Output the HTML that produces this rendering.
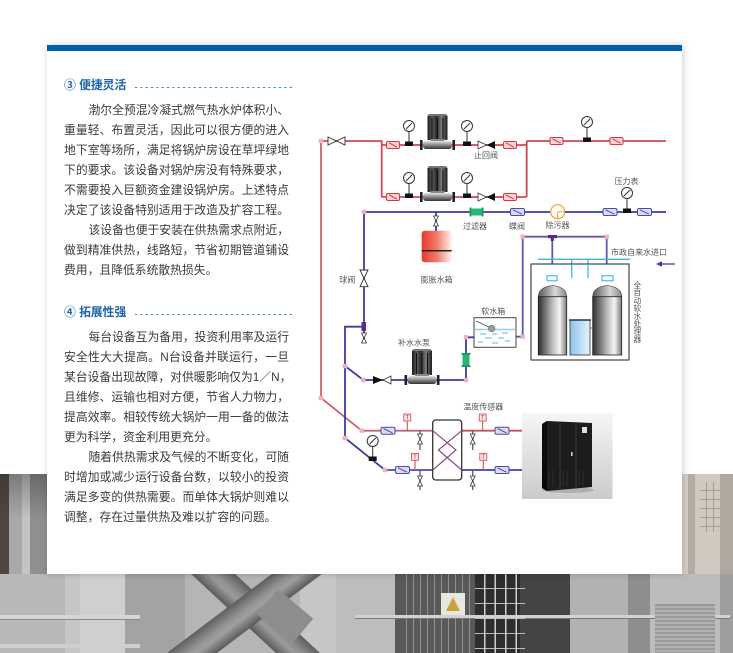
<!DOCTYPE html>
<html><head><meta charset="utf-8">
<style>
*{margin:0;padding:0;box-sizing:border-box}
html,body{width:733px;height:653px;overflow:hidden;background:#fff}
body{position:relative;font-family:"Liberation Sans","Noto Sans CJK SC",sans-serif}
.abs{position:absolute}
.card{position:absolute;left:47px;top:45px;width:635px;height:529px;background:#fff;box-shadow:1px 0 7px rgba(0,0,0,.2)}
.bar{position:absolute;left:47px;top:45px;width:635px;height:6px;background:#0062ad}
.t{position:absolute;left:64px;font-size:11.8px;font-weight:bold;color:#1d63ae;line-height:16px;white-space:nowrap}
.dots{position:absolute;left:135px;width:160px;height:1.3px;background:repeating-linear-gradient(90deg,#3f8bd0 0 2.2px,transparent 2.2px 5.33px)}
.l{position:absolute;left:64px;width:225px;font-size:11.8px;line-height:20px;height:20px;color:#3a3a3a;white-space:nowrap;text-align:justify;text-align-last:justify}
.i{left:88.5px;width:200.5px}
.e{text-align-last:left}
</style></head><body>

<!-- background photo approximation -->
<div class="abs" style="left:0;top:474px;width:47px;height:100px;background:linear-gradient(180deg,rgba(40,34,30,.35),rgba(0,0,0,0) 45%),linear-gradient(90deg,#4e4741 0 9px,#a9a9a9 9px 22px,#c4c4c4 22px 30px,#8f8f8f 30px 47px)"></div>
<div class="abs" style="left:682px;top:474px;width:51px;height:100px;background:linear-gradient(90deg,#d6cfc6 0 6px,#b4aca2 6px 13px,#cfc9c0 13px 38px,#aea89f 38px 51px)"></div>
<div class="abs" style="left:700px;top:482px;width:20px;height:50px;background:repeating-linear-gradient(90deg,transparent 0 6px,#a49d94 6px 7px),repeating-linear-gradient(180deg,transparent 0 8px,#a49d94 8px 9px)"></div>
<div class="abs" style="left:0;top:574px;width:733px;height:79px;overflow:hidden;background:linear-gradient(90deg,#b8b8b8 0 65px,#c6c6c6 65px 80px,#cfcfcf 80px 125px,#a3a3a3 125px 185px,#b5b5b5 185px 300px,#c6c6c6 300px 336px,#bdbdbd 336px 395px,#595959 395px 475px,#2e2e2e 475px 520px,#444 520px 570px,#b2b2b2 570px 628px,#8e8e8e 628px 650px,#bcbcbc 650px 720px,#9e9e9e 720px 733px)">
  <div class="abs" style="left:170px;top:24px;width:170px;height:30px;background:linear-gradient(180deg,#5e5e5e,#8e8e8e 40%,#9a9a9a 60%,#5a5a5a);transform:rotate(43deg)"></div>
  <div class="abs" style="left:160px;top:24px;width:170px;height:30px;background:linear-gradient(180deg,#5e5e5e,#929292 40%,#a0a0a0 60%,#5a5a5a);transform:rotate(-37deg)"></div>
  <div class="abs" style="left:262px;top:26px;width:46px;height:33px;background:#8d8d8d;transform:rotate(40deg)"></div>
  <div class="abs" style="left:0;top:41px;width:140px;height:5px;background:#d6d6d6;border-bottom:1px solid #888"></div>
  <div class="abs" style="left:0;top:70px;width:140px;height:4px;background:#cfcfcf"></div>
  <div class="abs" style="left:355px;top:41px;width:375px;height:4px;background:#d2d2d2;border-bottom:1px solid #777"></div>
  <div class="abs" style="left:475px;top:0;width:50px;height:79px;background:repeating-linear-gradient(90deg,transparent 0 9px,#cfcfcf 9px 10.5px),repeating-linear-gradient(180deg,transparent 0 14px,#bdbdbd 14px 15px)"></div>
  <div class="abs" style="left:400px;top:0;width:72px;height:79px;background:repeating-linear-gradient(90deg,transparent 0 6px,rgba(200,200,200,.5) 6px 7px)"></div>
  <div class="abs" style="left:441px;top:19px;width:24px;height:22px;background:#e8e6e0"></div>
  <div class="abs" style="left:446px;top:23px;width:0;height:0;border-left:7px solid transparent;border-right:7px solid transparent;border-bottom:14px solid #c8a23c"></div>
  <div class="abs" style="left:655px;top:30px;width:60px;height:49px;background:repeating-linear-gradient(180deg,#9a9a9a 0 2px,#b0b0b0 2px 4px)"></div>
</div>

<div class="card"></div>
<div class="bar"></div>

<div class="t" style="top:77px">③ 便捷灵活</div>
<div class="dots" style="top:86.5px"></div>
<div class="l i" style="top:100px">渤尔全预混冷凝式燃气热水炉体积小、</div>
<div class="l" style="top:120px">重量轻、布置灵活，因此可以很方便的进入</div>
<div class="l" style="top:140px">地下室等场所，满足将锅炉房设在草坪绿地</div>
<div class="l" style="top:160px">下的要求。该设备对锅炉房没有特殊要求，</div>
<div class="l" style="top:180px">不需要投入巨额资金建设锅炉房。上述特点</div>
<div class="l" style="top:200px">决定了该设备特别适用于改造及扩容工程。</div>
<div class="l i" style="top:220px">该设备也便于安装在供热需求点附近，</div>
<div class="l" style="top:240px">做到精准供热，线路短，节省初期管道铺设</div>
<div class="l e" style="top:260px">费用，且降低系统散热损失。</div>

<div class="t" style="top:304px">④ 拓展性强</div>
<div class="dots" style="top:313.5px"></div>
<div class="l i" style="top:327px">每台设备互为备用，投资利用率及运行</div>
<div class="l" style="top:347px">安全性大大提高。N台设备并联运行，一旦</div>
<div class="l" style="top:367px">某台设备出现故障，对供暖影响仅为1／N，</div>
<div class="l" style="top:387px">且维修、运输也相对方便，节省人力物力，</div>
<div class="l" style="top:407px">提高效率。相较传统大锅炉一用一备的做法</div>
<div class="l e" style="top:427px">更为科学，资金利用更充分。</div>
<div class="l i" style="top:447px">随着供热需求及气候的不断变化，可随</div>
<div class="l" style="top:467px">时增加或减少运行设备台数，以较小的投资</div>
<div class="l" style="top:487px">满足多变的供热需要。而单体大锅炉则难以</div>
<div class="l e" style="top:507px">调整，存在过量供热及难以扩容的问题。</div>

<svg width="733" height="653" viewBox="0 0 733 653" style="position:absolute;left:0;top:0" xmlns="http://www.w3.org/2000/svg">
<defs>
<linearGradient id="mg" x1="0" x2="1" y1="0" y2="0">
 <stop offset="0" stop-color="#1e1e1e"/><stop offset=".25" stop-color="#5c5c5c"/><stop offset=".45" stop-color="#2a2a2a"/><stop offset=".7" stop-color="#7a7a7a"/><stop offset="1" stop-color="#1e1e1e"/>
</linearGradient>
<linearGradient id="vg" x1="0" x2="0" y1="0" y2="1">
 <stop offset="0" stop-color="#e4e4e4"/><stop offset=".5" stop-color="#8a8a8a"/><stop offset="1" stop-color="#333"/>
</linearGradient>
<linearGradient id="tank" x1="0" x2="1"><stop offset="0" stop-color="#2e2e2e"/><stop offset=".5" stop-color="#bcbcbc"/><stop offset=".75" stop-color="#f4f4f4"/><stop offset="1" stop-color="#7a7a7a"/></linearGradient>
<linearGradient id="dome" x1="0" x2="1"><stop offset="0" stop-color="#555"/><stop offset=".6" stop-color="#d8d8d8"/><stop offset="1" stop-color="#888"/></linearGradient>
<linearGradient id="exp" x1="0" x2="1"><stop offset="0" stop-color="#e8382f"/><stop offset=".5" stop-color="#f07a68"/><stop offset="1" stop-color="#fff2ee"/></linearGradient>
<linearGradient id="brine" x1="0" x2="1"><stop offset="0" stop-color="#8cc4ec"/><stop offset="1" stop-color="#e4f2fc"/></linearGradient>
<linearGradient id="boil" x1="0" x2="0" y1="0" y2="1"><stop offset="0" stop-color="#f6f6f6"/><stop offset="1" stop-color="#cbcbcb"/></linearGradient>
<g id="ur"><rect x="-6.5" y="-3.5" width="13" height="7" rx="1.5" fill="#fcd6d9" stroke="#e0323f" stroke-width="1"/><path d="M-4,-2.2L4,2.2" stroke="#e0323f" stroke-width="1"/></g>
<g id="ub"><rect x="-7" y="-3.5" width="14" height="7" rx="1.5" fill="#dedcf4" stroke="#4a4ab0" stroke-width="1"/><path d="M-4.5,-2.2L4.5,2.2" stroke="#4a4ab0" stroke-width="1"/></g>
<g id="vv"><path d="M-2.5,-5L2.5,5L-2.5,5L2.5,-5Z" fill="#fff" stroke="#333" stroke-width=".8"/></g>
<g id="pj"><rect x="-2.2" y="-2.2" width="4.4" height="4.4" fill="#f2b0b9"/></g>
<g id="gg"><path d="M0,-13.5V-2" stroke="#333" stroke-width="1"/><circle cx="0" cy="-19" r="5.5" fill="#fff" stroke="#333" stroke-width="1"/><path d="M-3,-16L3,-22" stroke="#333" stroke-width="1"/><rect x="-4" y="-3.5" width="8" height="4.5" fill="#111"/></g>
<g id="ts"><path d="M0,-9.7V0" stroke="#d04050" stroke-width="1"/><rect x="-3.5" y="-16.7" width="7" height="7" fill="#fde6e6" stroke="#d04050" stroke-width=".8"/><text x="0" y="-11" font-size="6" text-anchor="middle" fill="#c03040" font-family="Liberation Sans,sans-serif">T</text></g>
<g id="pump">
 <rect x="427.5" y="114" width="20" height="5" rx="2.5" fill="#777"/>
 <rect x="427.5" y="116" width="20" height="24" fill="url(#mg)"/>
 <path d="M432,118V139M437.5,118V139M443,118V139" stroke="#111" stroke-width="1"/>
 <rect x="430.5" y="139" width="14" height="3" fill="#888"/>
 <rect x="423" y="141" width="29" height="8" rx="3" fill="url(#vg)"/>
 <rect x="420" y="140" width="2.6" height="10" fill="#222"/>
 <rect x="452.4" y="140" width="2.6" height="10" fill="#222"/>
</g>
</defs>

<!-- pipes -->
<g fill="none" stroke-width="1.8">
<path d="M321,141H381.7V197M381.7,145H526.7M381.7,197H526.7M526.7,141V197M526.7,141H666" stroke="#d64553"/>
<path d="M321,141V398L361.7,430.7" stroke="#d0606e"/>
<path d="M361.7,430.7H432.7" stroke="#b8687f"/>
<path d="M461.7,430.7H522" stroke="#c8505f"/>
<path d="M364,212H666M364,212V343M364,326.7H345V438L385,470M345,366L363.3,380H466V337.3H474M436,212V231" stroke="#3b3ba6"/>
<path d="M385,470H432.7" stroke="#5646a6"/>
<path d="M461.7,470H522" stroke="#4040a8"/>
<path d="M516,336.7H522.7V236.7H606.7V276M552.3,237V276" stroke="#5a5ab4"/>
<path d="M420,430.7V450M472.7,430.7V450M420,470V490M472.7,470V490" stroke="#6a4a9a" stroke-width="1.3"/>
</g>
<g fill="none" stroke="#3cb4e8" stroke-width="1.3">
<path d="M538,259.3H630M571.7,259.3V278.3H557M588,259.3V278.3H602M552,281V287M607.5,281V287M566.7,352H570"/>
</g>
<path d="M675,264H661" stroke="#3b3ba6" stroke-width="1.3"/>
<path d="M656,264L662,261.3L662,266.7Z" fill="#3b3ba6"/>

<!-- top components -->
<path d="M328,137L345,145L345,137L328,145Z" fill="#fff" stroke="#333" stroke-width=".9"/>
<use href="#ur" x="393" y="145"/><use href="#ur" x="510" y="145"/>
<use href="#ur" x="393" y="197"/><use href="#ur" x="510" y="197"/>
<use href="#ur" x="556.5" y="141"/><use href="#ur" x="616.5" y="141"/>
<use href="#gg" x="409" y="145"/><use href="#gg" x="467" y="145"/>
<use href="#gg" x="409" y="197"/><use href="#gg" x="467" y="197"/>
<use href="#gg" x="587" y="141"/><use href="#gg" x="627" y="212"/>
<use href="#gg" x="372.7" y="460"/>
<use href="#pump"/>
<use href="#pump" transform="translate(0,52)"/>
<use href="#pump" transform="translate(-15.5,235)"/>
<path d="M478,141L486.5,145L478,149Z" fill="#fff" stroke="#333" stroke-width=".8"/>
<path d="M495,141L486.5,145L495,149Z" fill="#111"/>
<path d="M478,193L486.5,197L478,201Z" fill="#fff" stroke="#333" stroke-width=".8"/>
<path d="M495,193L486.5,197L495,201Z" fill="#111"/>

<!-- blue line components -->
<rect x="471" y="208.5" width="11" height="7" fill="#2bb673"/>
<rect x="469.5" y="207.5" width="1.8" height="9" fill="#1a9a5a"/><rect x="481.7" y="207.5" width="1.8" height="9" fill="#1a9a5a"/>
<use href="#ub" x="517.5" y="212"/><use href="#ub" x="610" y="212"/><use href="#ub" x="644.5" y="212"/>
<circle cx="557.7" cy="211.7" r="7" fill="#fff" stroke="#f5a02a" stroke-width="1.2"/>
<path d="M557.7,211.7V218.7M557.7,211.7H564.7" stroke="#f5a02a" stroke-width="1"/>
<use href="#vv" x="436" y="221"/>
<rect x="421.7" y="230.7" width="30" height="31.6" rx="3" fill="url(#exp)"/>
<path d="M421.7,250.7H451.7" stroke="#222" stroke-width="1.5"/>
<path d="M360,270L368,286.7L360,286.7L368,270Z" fill="#fff" stroke="#333" stroke-width=".9"/>
<rect x="361.5" y="322" width="4.5" height="9" fill="#5a2a8a"/>
<use href="#vv" x="364" y="338"/>
<rect x="548" y="235" width="9" height="3.2" fill="#5a2a8a"/><rect x="550.8" y="237" width="3" height="4" fill="#5a2a8a"/>

<!-- makeup -->
<path d="M373,376L383,380L373,384Z" fill="#111"/>
<path d="M391,376L383,380L391,384Z" fill="#fff" stroke="#333" stroke-width=".8"/>
<rect x="462.5" y="354.5" width="7" height="11" fill="#2bb673"/>
<rect x="461.5" y="353" width="9" height="1.8" fill="#1a9a5a"/><rect x="461.5" y="365.2" width="9" height="1.8" fill="#1a9a5a"/>
<rect x="474" y="317.7" width="42" height="29.6" fill="#fff" stroke="#444" stroke-width="1"/>
<path d="M475,329.5H515" stroke="#8fd0f0" stroke-width="1.6"/>
<path d="M476,321L491,328" stroke="#444" stroke-width=".8"/>
<circle cx="491.7" cy="328.5" r="3.3" fill="#9a9a9a" stroke="#555" stroke-width=".5"/>
<path d="M480,334h6M492,334h5M502,333h6M485,338h7M498,338h6M478,342h5M492,343h6M505,341h5" stroke="#5ab8e8" stroke-width="1"/>

<!-- softener -->
<rect x="531" y="264" width="98" height="96" fill="#fff" stroke="#444" stroke-width="1.2"/>
<path d="M571.7,264V278.3M588,264V278.3" stroke="#3cb4e8" stroke-width="1.3"/>
<rect x="547" y="275.8" width="10" height="5" fill="#fff" stroke="#3cb4e8" stroke-width="1.1"/>
<rect x="602" y="275.8" width="11" height="5" fill="#fff" stroke="#3cb4e8" stroke-width="1.1"/>
<path d="M538.3,297Q538.3,287 552.5,285.5Q566.7,287 566.7,297Z" fill="url(#dome)" stroke="#333" stroke-width=".6"/>
<rect x="538.3" y="296.7" width="28.4" height="58.3" fill="url(#tank)" stroke="#222" stroke-width=".8"/>
<path d="M592.7,297Q592.7,287 607.2,285.5Q621.7,287 621.7,297Z" fill="url(#dome)" stroke="#333" stroke-width=".6"/>
<rect x="592.7" y="296.7" width="29" height="58.3" fill="url(#tank)" stroke="#222" stroke-width=".8"/>
<rect x="570" y="320" width="20" height="35" fill="url(#brine)" stroke="#333" stroke-width=".8"/>
<path d="M569,320H591" stroke="#333" stroke-width="1.5"/>
<path d="M590,328H593" stroke="#d03080" stroke-width="1"/>

<!-- heat exchanger -->
<use href="#ub" x="388" y="430.7"/><use href="#ub" x="502" y="430.7"/>
<use href="#ub" x="402.5" y="470"/><use href="#ub" x="502" y="470"/>
<use href="#ts" x="407.3" y="430.7"/><use href="#ts" x="482.7" y="430.7"/>
<use href="#ts" x="415" y="470"/><use href="#ts" x="483.3" y="470"/>
<use href="#vv" x="420" y="439"/><use href="#vv" x="472.7" y="439"/>
<use href="#vv" x="420" y="481"/><use href="#vv" x="472.7" y="481"/>
<rect x="432.7" y="420" width="29" height="60" rx="3" fill="#fff" stroke="#333" stroke-width="1.3"/>
<path d="M432.7,430.7L456,450L432.7,470M461.7,430.7L438.4,450L461.7,470" fill="none" stroke="#8a4a8a" stroke-width="1.2"/>

<!-- pink joints -->
<use href="#pj" x="321" y="141"/><use href="#pj" x="364" y="212"/>
<use href="#pj" x="345" y="366"/><use href="#pj" x="363.3" y="380"/>
<use href="#pj" x="466" y="380"/><use href="#pj" x="466" y="337.3"/>
<use href="#pj" x="522.7" y="336.7"/><use href="#pj" x="522.7" y="236.7"/>
<use href="#pj" x="606.7" y="236.7"/><use href="#pj" x="321" y="398"/>
<use href="#pj" x="361.7" y="430.7"/><use href="#pj" x="345" y="438"/>
<use href="#pj" x="385" y="470"/>

<!-- boiler picture -->
<rect x="522" y="413" width="90.5" height="86" fill="url(#boil)"/>
<ellipse cx="568" cy="490" rx="26" ry="3" fill="#999" opacity=".6"/>
<path d="M542,424L547,421L592,423L592,487L547,491L542,488Z" fill="#1c1c1c"/>
<path d="M542,424L547,421L547,491L542,488Z" fill="#0a0a0a"/>
<path d="M560,423V489M576,423V488" stroke="#3a3a3a" stroke-width="1"/>
<path d="M549,470V486M553,470V486M563,470V486M567,470V486M579,470V485M583,470V485" stroke="#333" stroke-width=".8"/>
<rect x="582" y="427" width="5" height="6" fill="#ddd"/>
<rect x="571" y="452" width="1.6" height="4" fill="#ccc"/>

<!-- labels -->
<g font-family="Liberation Sans,Noto Sans CJK SC,sans-serif" font-size="8" fill="#555" text-anchor="middle">
<text x="486" y="158">止回阀</text>
<text x="475" y="229">过滤器</text>
<text x="517" y="229">蝶阀</text>
<text x="557.5" y="228">除污器</text>
<text x="626.5" y="184">压力表</text>
<text x="639" y="255">市政自来水进口</text>
<text x="436.7" y="282.3">膨胀水箱</text>
<text x="347.3" y="282.3">球阀</text>
<text x="414" y="345.7">补水水泵</text>
<text x="493.3" y="314">软水箱</text>
<text x="483.3" y="409.7">温度传感器</text>
<text x="637.3" y="288" font-size="7.7"><tspan x="637.3">全</tspan><tspan x="637.3" dy="7.7">自</tspan><tspan x="637.3" dy="7.7">动</tspan><tspan x="637.3" dy="7.7">软</tspan><tspan x="637.3" dy="7.7">水</tspan><tspan x="637.3" dy="7.7">处</tspan><tspan x="637.3" dy="7.7">理</tspan><tspan x="637.3" dy="7.7">器</tspan></text>
</g>
</svg>
</body></html>
